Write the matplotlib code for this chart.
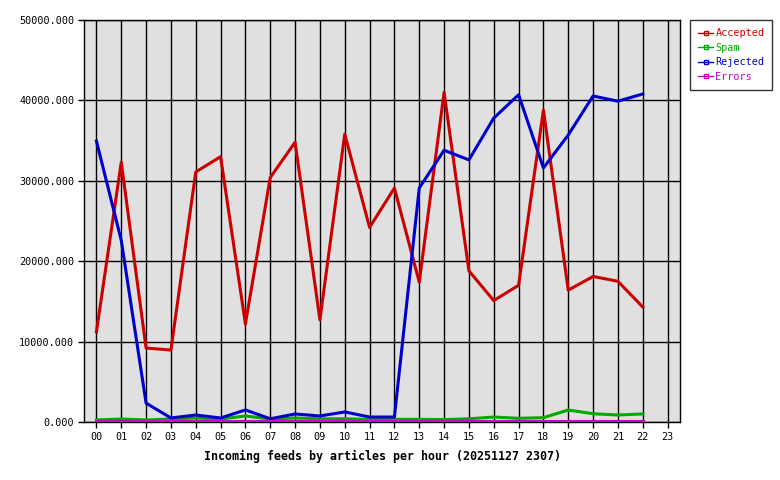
import numpy as np
import matplotlib.pyplot as plt

hours = ['00', '01', '02', '03', '04', '05', '06', '07', '08', '09', '10', '11',
         '12', '13', '14', '15', '16', '17', '18', '19', '20', '21', '22', '23']

accepted = [11200, 32300, 9200, 8950, 31100, 33000, 12200, 30400, 34800, 12700,
            35800, 24200, 29100, 17400, 41000, 18800, 15100, 17000, 38800, 16400,
            18100, 17500, 14300]
spam = [250, 370, 250, 370, 500, 370, 750, 370, 500, 400, 400, 330, 330, 330,
        300, 400, 620, 460, 540, 1490, 1030, 870, 1000]
rejected = [34950, 22600, 2350, 500, 870, 500, 1500, 400, 1000, 750, 1250, 620,
            620, 29100, 33800, 32600, 37800, 40700, 31600, 35700, 40550, 39900,
            40800]
errors = [100] * 23

series = [('Accepted', accepted, '#cc0000'),
          ('Spam', spam, '#00aa00'),
          ('Rejected', rejected, '#0000cc'),
          ('Errors', errors, '#cc00cc')]

plt.rcParams['font.family'] = 'DejaVu Sans Mono'
fig = plt.figure(figsize=(7.8, 4.8), dpi=100)
ax = fig.add_axes([84 / 780, 58 / 480, 596 / 780, 402 / 480])
ax.set_facecolor('#e0e0e0')

x = np.arange(len(accepted))
for name, vals, col in series:
    ax.plot(x, vals, color=col, lw=2.2, label=name, zorder=3)

ax.set_xlim(-0.5, 23.5)
ax.set_ylim(0, 50000)
ax.set_xticks(range(24))
ax.set_xticklabels(hours)
ax.set_yticks(range(0, 50001, 10000))
ax.set_yticklabels(['%.3f' % v for v in range(0, 50001, 10000)])
ax.grid(True, color='black', lw=1, zorder=1)
ax.set_axisbelow(True)
ax.tick_params(length=4, width=1, labelsize=7.3, pad=3)
for s in ax.spines.values():
    s.set_color('black')
    s.set_linewidth(1)

ax.set_xlabel('Incoming feeds by articles per hour (20251127 2307)',
              fontsize=8.4, fontweight='bold', labelpad=6)

# legend box at the upper right of the figure
handles = [plt.Line2D([0], [0], color=c, lw=1, marker='s', markersize=2.5,
                      markerfacecolor='none', markeredgecolor=c)
           for _, _, c in series]
leg = fig.legend(handles, [n for n, _, _ in series], loc='upper left',
                 bbox_to_anchor=(690 / 780, 1 - 20 / 480), fontsize=7.3,
                 frameon=True, fancybox=False, handlelength=1.5,
                 handletextpad=0.2, borderpad=0.8, labelspacing=0.45,
                 borderaxespad=0)
leg.get_frame().set_edgecolor('black')
leg.get_frame().set_linewidth(1)
for t, (_, _, c) in zip(leg.get_texts(), series):
    t.set_color(c)

fig.savefig('out.png', dpi=100)
